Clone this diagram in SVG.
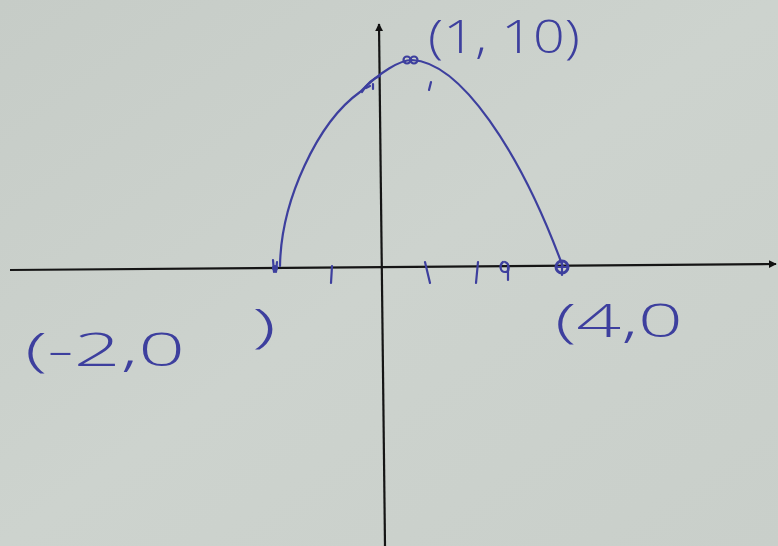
<svg xmlns="http://www.w3.org/2000/svg" width="778" height="546" viewBox="0 0 778 546">
<defs>
<linearGradient id="paper" x1="0" y1="0" x2="1" y2="1">
<stop offset="0" stop-color="#c6ccc7"/>
<stop offset="0.5" stop-color="#cdd3ce"/>
<stop offset="1" stop-color="#c9cfca"/>
</linearGradient>
<marker id="arr" viewBox="0 0 10 10" refX="9" refY="5" markerWidth="8" markerHeight="8" orient="auto" markerUnits="userSpaceOnUse">
<path d="M0,0 L10,5 L0,10 Z" fill="#111"/>
</marker>
<style>
.axis{stroke:#151515;stroke-width:2.2;fill:none}
.ink{stroke:#3d3f9e;stroke-width:2.2;fill:none;stroke-linecap:round}
.lbl{font-family:"Open Sans","Liberation Sans","DejaVu Sans",sans-serif;font-weight:300;fill:#3d3f9e;font-size:46px}
</style>
</defs>
<rect width="778" height="546" fill="url(#paper)"/>
<g id="axes">
<path class="axis" d="M10,270 L776,264" marker-end="url(#arr)"/>
<path class="axis" d="M385,546 L379,24" marker-end="url(#arr)"/>
</g>
<g id="curve">
<path class="ink" d="M280,266 C281,200 318,122 360,92 C380,72 400,60 412,60 C460,62 520,150 563,267"/>
<path class="ink" d="M362,92 C368,82 374,78 380,76" stroke-width="3"/>
</g>
<g id="marks">
<path class="ink" d="M273,260 L274,272 M277,262 L276,272" stroke-width="3"/>
<circle cx="275" cy="268" r="3" fill="#3d3f9e"/>
<path class="ink" d="M332,266 L331,283"/>
<path class="ink" d="M425,262 L430,283"/>
<path class="ink" d="M478,262 L476,283"/>
<path class="ink" d="M503,262 C499,265 500,272 505,272 C510,272 510,264 505,262 M508,266 L508,280" stroke-width="2.5"/>
<circle cx="562" cy="267" r="6" fill="none" stroke="#3d3f9e" stroke-width="3"/>
<path class="ink" d="M556,267 L568,267 M562,261 L562,275" stroke-width="2.5"/>
<circle cx="407" cy="60" r="3.5" class="ink"/>
<circle cx="414" cy="60" r="3.5" class="ink"/>
<path class="ink" d="M366,88 L370,86 M373,84 L373,89"/>
<path class="ink" d="M431,82 L429,90" stroke-width="2.5"/>
</g>
<g id="labels">
<text class="lbl" x="428" y="53" textLength="152" lengthAdjust="spacingAndGlyphs">(1, 10)</text>
<text class="lbl" x="25" y="366" textLength="160" lengthAdjust="spacingAndGlyphs">(-2,0</text>
<text class="lbl" x="252" y="342" textLength="24" lengthAdjust="spacingAndGlyphs">)</text>
<text class="lbl" x="555" y="337" textLength="128" lengthAdjust="spacingAndGlyphs">(4,0</text>
</g>
</svg>
